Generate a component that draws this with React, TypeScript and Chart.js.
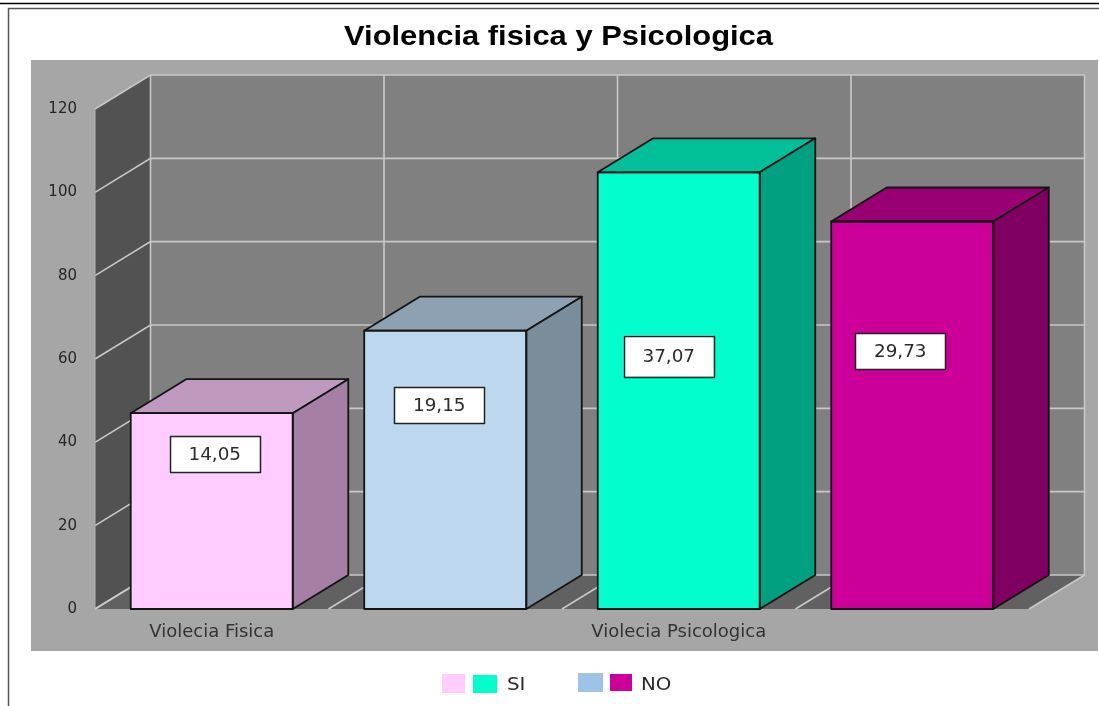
import React, { useEffect, useRef } from "react";
import { Chart, registerables } from "chart.js";

Chart.register(...registerables);

// ---- chart content ----
const TITLE = "Violencia fisica y Psicologica";
const categories = ["Violecia Fisica", "", "Violecia Psicologica", ""];
const barValues = [47, 66.8, 104.8, 93];
const valueLabels = ["14,05", "19,15", "37,07", "29,73"];
const yMax = 120;
const yStep = 20;
const legendEntries = [
  { text: "SI", colors: ["#FFCCFF", "#00FFCC"] },
  { text: "NO", colors: ["#9DC3E6", "#CC0099"] },
];

// ---- styling ----
const FONT = "'DejaVu Sans'";
const frontColors = ["#FFCCFF", "#BDD7EE", "#00FFCC", "#CC0099"];
const topColors = ["#BF99BF", "#8EA1B3", "#00BF99", "#990073"];
const sideColors = ["#A67FA6", "#7B8C9B", "#00A080", "#7F0060"];
const DEPTH_X = 55.5;
const DEPTH_Y = -34;
const EDGE = "#141414";
// label boxes: centre offset from bar (px), centre height in axis units, box size (px)
const labelBoxes = [
  { dx: 3, at: 37.1, w: 90, h: 36 },
  { dx: -6, at: 48.9, w: 90, h: 36 },
  { dx: -10, at: 60.7, w: 90, h: 41 },
  { dx: -12, at: 61.9, w: 90, h: 36 },
];
const legendLayout = [
  { swatches: [[442, 674, 23, 19], [473, 675, 24, 18]], textX: 507 },
  { swatches: [[578, 673, 25, 19], [610, 674, 22, 17]], textX: 641 },
];

const poly = (ctx: CanvasRenderingContext2D, pts: number[][], fill?: string, stroke?: string, lw = 1) => {
  ctx.beginPath();
  pts.forEach(([x, y], i) => (i ? ctx.lineTo(x, y) : ctx.moveTo(x, y)));
  ctx.closePath();
  if (fill) {
    ctx.fillStyle = fill;
    ctx.fill();
  }
  if (stroke) {
    ctx.strokeStyle = stroke;
    ctx.lineWidth = lw;
    ctx.stroke();
  }
};

const line = (ctx: CanvasRenderingContext2D, pts: number[][], color: string, lw: number) => {
  ctx.beginPath();
  pts.forEach(([x, y], i) => (i ? ctx.lineTo(x, y) : ctx.moveTo(x, y)));
  ctx.strokeStyle = color;
  ctx.lineWidth = lw;
  ctx.stroke();
};

// the reference's lettering is wider than it is tall
const wideText = (ctx: CanvasRenderingContext2D, text: string, x: number, y: number, sx: number) => {
  ctx.save();
  ctx.translate(x, y);
  ctx.scale(sx, 1);
  ctx.fillText(text, 0, 0);
  ctx.restore();
};

const scene3d = {
  id: "scene3d",
  beforeDraw(chart: any) {
    const { ctx, chartArea: a, width, height } = chart;
    ctx.save();
    ctx.fillStyle = "#FFFFFF";
    ctx.fillRect(0, 0, width, height);
    // page rules and frame
    line(ctx, [[0, 3.5], [width, 3.5]], "#000000", 1.5);
    line(ctx, [[8.5, height], [8.5, 8.5], [width, 8.5]], "#555555", 1.5);
    // title
    ctx.font = `bold 28px 'Liberation Sans'`;
    ctx.fillStyle = "#000000";
    ctx.textAlign = "center";
    ctx.textBaseline = "middle";
    wideText(ctx, TITLE, 558.5, 37, 429 / ctx.measureText(TITLE).width);
    // panel
    ctx.fillStyle = "#A6A6A6";
    ctx.fillRect(31, 60, 1067, 591);
    // walls and floor
    const dx = DEPTH_X,
      dy = DEPTH_Y;
    const gridCol = "#C8C8C8";
    poly(ctx, [[a.left + dx, a.top + dy], [a.right + dx, a.top + dy], [a.right + dx, a.bottom + dy], [a.left + dx, a.bottom + dy]], "#808080");
    poly(ctx, [[a.left, a.top], [a.left + dx, a.top + dy], [a.left + dx, a.bottom + dy], [a.left, a.bottom]], "#525252");
    poly(ctx, [[a.left, a.bottom], [a.left + dx, a.bottom + dy], [a.right + dx, a.bottom + dy], [a.right, a.bottom]], "#616161");
    const y = chart.scales.y;
    const x = chart.scales.x;
    for (let v = 0; v <= yMax; v += yStep) {
      const py = y.getPixelForValue(v);
      line(ctx, [[a.left, py], [a.left + dx, py + dy], [a.right + dx, py + dy]], gridCol, 1.6);
    }
    const catW = x.getPixelForValue(1) - x.getPixelForValue(0);
    for (let i = 0; i <= categories.length; i++) {
      const px = a.left + catW * i;
      line(ctx, [[px, a.bottom], [px + dx, a.bottom + dy], [px + dx, a.top + dy]], gridCol, 1.6);
    }
    line(ctx, [[a.left, a.top], [a.left, a.bottom]], "#B0B0B0", 1);
    ctx.restore();
  },
  afterDatasetsDraw(chart: any) {
    const { ctx } = chart;
    const dx = DEPTH_X,
      dy = DEPTH_Y;
    ctx.save();
    ctx.lineJoin = "round";
    chart.getDatasetMeta(0).data.forEach((bar: any, i: number) => {
      const l = bar.x - bar.width / 2;
      const r = bar.x + bar.width / 2;
      const t = bar.y;
      const b = bar.base;
      poly(ctx, [[l, t], [l + dx, t + dy], [r + dx, t + dy], [r, t]], topColors[i], EDGE, 1.8);
      poly(ctx, [[r, t], [r + dx, t + dy], [r + dx, b + dy], [r, b]], sideColors[i], EDGE, 1.8);
      poly(ctx, [[l, t], [r, t], [r, b], [l, b]], undefined, EDGE, 1.8);
    });
    // value labels
    const yS = chart.scales.y;
    ctx.textAlign = "center";
    ctx.textBaseline = "middle";
    ctx.font = `17px ${FONT}`;
    chart.getDatasetMeta(0).data.forEach((bar: any, i: number) => {
      const box = labelBoxes[i];
      const cx = bar.x + box.dx;
      const cy = yS.getPixelForValue(box.at);
      ctx.fillStyle = "#FFFFFF";
      ctx.fillRect(cx - box.w / 2, cy - box.h / 2, box.w, box.h);
      ctx.strokeStyle = "#222222";
      ctx.lineWidth = 1.5;
      ctx.strokeRect(Math.round(cx - box.w / 2) + 0.5, Math.round(cy - box.h / 2) + 0.5, box.w, box.h);
      ctx.fillStyle = "#2B2B2B";
      wideText(ctx, valueLabels[i], cx, cy + 1, 1.08);
    });
    ctx.restore();
  },
  afterDraw(chart: any) {
    const { ctx } = chart;
    ctx.save();
    ctx.font = `18px ${FONT}`;
    ctx.textAlign = "left";
    ctx.textBaseline = "middle";
    legendEntries.forEach((entry, i) => {
      const lay = legendLayout[i];
      entry.colors.forEach((c, k) => {
        const [sx, sy, sw, sh] = lay.swatches[k];
        ctx.fillStyle = c;
        ctx.fillRect(sx, sy, sw, sh);
      });
      ctx.fillStyle = "#2B2B2B";
      wideText(ctx, entry.text, lay.textX, 685, 1.1);
    });
    ctx.restore();
  },
};

export default function App() {
  const ref = useRef<HTMLCanvasElement>(null);
  useEffect(() => {
    document.body.style.margin = "0";
    const chart = new Chart(ref.current!, {
      type: "bar",
      plugins: [scene3d],
      data: {
        labels: categories,
        datasets: [
          {
            data: barValues,
            backgroundColor: frontColors,
            borderWidth: 0,
            barPercentage: 0.694,
            categoryPercentage: 1,
          },
        ],
      },
      options: {
        animation: false,
        responsive: false,
        layout: { padding: { left: 0, right: 70, top: 109, bottom: 0 } },
        plugins: {
          legend: { display: false },
          tooltip: { enabled: false },
          title: { display: false, text: TITLE },
        },
        scales: {
          x: {
            grid: { display: false, drawTicks: false },
            border: { display: false },
            ticks: {
              autoSkip: false,
              maxRotation: 0,
              padding: 13,
              color: "#333333",
              font: { family: "'DejaVu Sans'", size: 18 },
            },
            afterFit: (s: any) => {
              s.height = 97;
            },
          },
          y: {
            min: 0,
            max: yMax,
            grid: { display: false, drawTicks: false },
            border: { display: false },
            ticks: {
              stepSize: yStep,
              padding: 18,
              color: "#262626",
              font: { family: "'DejaVu Sans'", size: 15 },
            },
            afterFit: (s: any) => {
              s.width = 95;
            },
          },
        },
      },
    } as any);
    return () => chart.destroy();
  }, []);
  return <canvas ref={ref} width={1099} height={706} style={{ display: "block" }} />;
}
